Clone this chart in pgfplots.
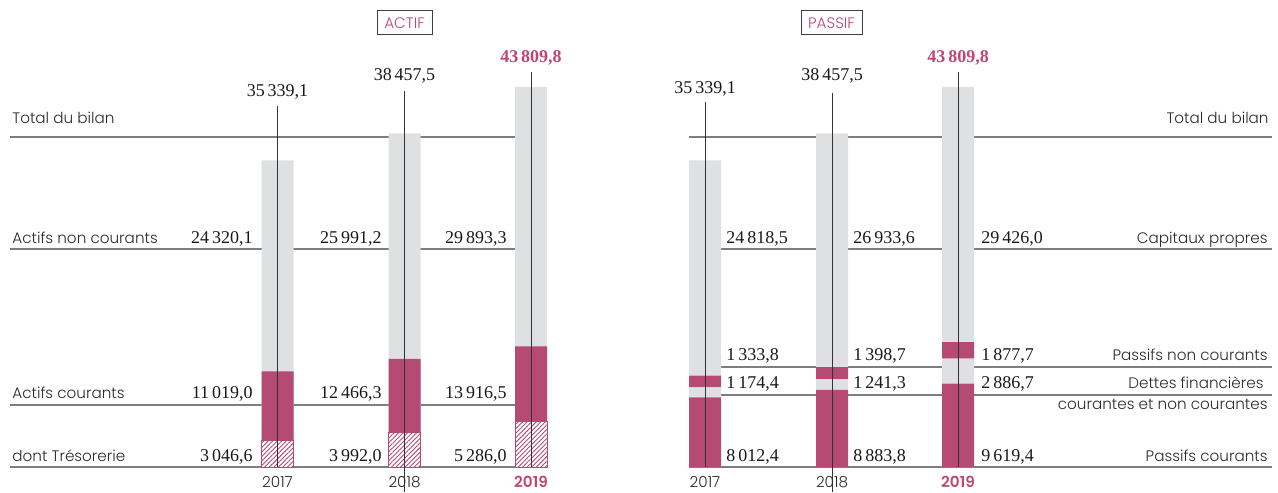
\documentclass[border=0pt]{standalone}
\usepackage{pgfplots}
\pgfplotsset{compat=1.18}
\usepackage{fontspec}
\IfFontExistsTF{Poppins Light}{%
  \IfFontExistsTF{Poppins SemiBold}{%
    \setmainfont{Poppins Light}[BoldFont={Poppins SemiBold}]}{%
    \setmainfont{Poppins Light}[BoldFont={Poppins}]}}{%
  \setmainfont{Poppins}}
\newfontfamily\numfont{Liberation Serif}
\usetikzlibrary{patterns.meta}
\definecolor{crim}{HTML}{B54A72}
\definecolor{crimtxt}{HTML}{C0466F}
\definecolor{lgray}{HTML}{DFE0E2}
\definecolor{linegray}{HTML}{7F7F7F}
\definecolor{labcol}{HTML}{2B2B2B}
\tikzset{
  lab/.style={font=\fontsize{7.6}{9}\selectfont, text=labcol, inner sep=0pt},
  num/.style={font=\numfont\fontsize{9}{10}\selectfont, text=black!90, inner sep=0pt},
  bnum/.style={font=\numfont\bfseries\fontsize{9}{10}\selectfont, text=crimtxt, inner sep=0pt},
  hline/.style={draw=linegray, line width=0.75pt},
  vline/.style={draw=black!80, line width=0.5pt},
}
\pgfplotsset{
  panel/.style={at={(0,0)}, anchor=south west, scale only axis,
    width=639pt, height=246pt, xmin=0, xmax=1278,
    ymin=-2882.3, ymax=53840.4, axis lines=none, clip=false, bar width=32},
}
\begin{document}
\begin{tikzpicture}
\useasboundingbox (0,0) rectangle (639pt,246pt);
% ---------------- ACTIF ----------------
\begin{axis}[panel, ybar]
\draw[hline] (axis cs:10,38045.7) -- (axis cs:531,38045.7);
\draw[hline] (axis cs:10,25133.2) -- (axis cs:531,25133.2);
\draw[hline] (axis cs:10,7148.0) -- (axis cs:531,7148.0);
\draw[hline] (axis cs:10,0) -- (axis cs:547,0);
% Total du bilan
\addplot[fill=lgray, draw=none, bar shift=0pt] coordinates {(277.5,35339.1) (404.5,38457.5) (531,43809.8)};
% Actifs courants
\addplot[fill=crim, draw=none, bar shift=0pt] coordinates {(277.5,11019.0) (404.5,12466.3) (531,13916.5)};
% dont Tresorerie
\addplot[fill=white, draw=none, bar shift=0pt] coordinates {(277.5,3046.6) (404.5,3992.0) (531,5286.0)};
\addplot[pattern={Lines[angle=45,distance=1.6pt,line width=0.45pt]}, pattern color=crim, draw=crim, line width=0.4pt, bar shift=0pt] coordinates {(277.5,3046.6) (404.5,3992.0) (531,5286.0)};
% vertical lines
\draw[vline] (axis cs:277.5,41619.7) -- (axis cs:277.5,0);
\draw[vline] (axis cs:404.5,43349.0) -- (axis cs:404.5,-2882.3);
\draw[vline] (axis cs:531,45539.6) -- (axis cs:531,0);
% top values
\node[num, anchor=base] at (axis cs:277.5,42657.3) {35\,339,1};
\node[num, anchor=base] at (axis cs:404.5,44501.9) {38\,457,5};
\node[bnum, anchor=base] at (axis cs:531,46577.2) {43\,809,8};
% left labels
\node[lab, anchor=base west] at (axis cs:12,39544.5) {Total du bilan};
\node[lab, anchor=base west] at (axis cs:12,25709.7) {Actifs non courants};
\node[lab, anchor=base west] at (axis cs:12,7839.7) {Actifs courants};
\node[lab, anchor=base west] at (axis cs:12,576.5) {dont Trésorerie};
% values
\node[num, anchor=base east] at (axis cs:253,25709.7) {24\,320,1};
\node[num, anchor=base east] at (axis cs:382,25709.7) {25\,991,2};
\node[num, anchor=base east] at (axis cs:507,25709.7) {29\,893,3};
\node[num, anchor=base east] at (axis cs:253,7839.7) {11\,019,0};
\node[num, anchor=base east] at (axis cs:382,7839.7) {12\,466,3};
\node[num, anchor=base east] at (axis cs:507,7839.7) {13\,916,5};
\node[num, anchor=base east] at (axis cs:253,576.5) {3\,046,6};
\node[num, anchor=base east] at (axis cs:382,576.5) {3\,992,0};
\node[num, anchor=base east] at (axis cs:507,576.5) {5\,286,0};
% years
\node[lab, anchor=base] at (axis cs:277.5,-2421.1) {2017};
\node[lab, anchor=base] at (axis cs:404.5,-2421.1) {2018};
\node[lab, anchor=base, text=crimtxt, font=\bfseries\fontsize{7.6}{9}\selectfont] at (axis cs:531,-2421.1) {2019};
% title
\node[draw=black!75, line width=0.5pt, inner sep=0pt, minimum width=27.5pt, minimum height=12pt, text=crimtxt, font=\fontsize{7.6}{9}\selectfont] at (axis cs:404.5,51188.8) {ACTIF};
\end{axis}
% ---------------- PASSIF background lines ----------------
\begin{axis}[panel]
\draw[hline] (axis cs:689,38045.7) -- (axis cs:1272,38045.7);
\draw[hline] (axis cs:689,25133.2) -- (axis cs:1272,25133.2);
\draw[hline] (axis cs:721,11529.0) -- (axis cs:1272,11529.0);
\draw[hline] (axis cs:721,8300.9) -- (axis cs:1272,8300.9);
\draw[hline] (axis cs:689,0) -- (axis cs:1272,0);
\end{axis}
% ---------------- PASSIF bars ----------------
\begin{axis}[panel, ybar stacked]
% Passifs courants
\addplot[fill=crim, draw=none] coordinates {(705,8012.4) (832,8883.8) (958,9619.4)};
% Dettes financieres
\addplot[fill=lgray, draw=none] coordinates {(705,1174.4) (832,1241.3) (958,2886.7)};
% Passifs non courants
\addplot[fill=crim, draw=none] coordinates {(705,1333.8) (832,1398.7) (958,1877.7)};
% Capitaux propres
\addplot[fill=lgray, draw=none] coordinates {(705,24818.5) (832,26933.6) (958,29426.0)};
\end{axis}
% ---------------- PASSIF overlay (lines and texts on top) ----------------
\begin{axis}[panel]
% vertical lines
\draw[vline] (axis cs:705,42080.9) -- (axis cs:705,0);
\draw[vline] (axis cs:832,43118.5) -- (axis cs:832,-2882.3);
\draw[vline] (axis cs:958,45539.6) -- (axis cs:958,0);
% top values
\node[num, anchor=base] at (axis cs:705,43003.2) {35\,339,1};
\node[num, anchor=base] at (axis cs:832,44501.9) {38\,457,5};
\node[bnum, anchor=base] at (axis cs:958,46577.2) {43\,809,8};
% right labels
\node[lab, anchor=base east] at (axis cs:1269,39544.5) {Total du bilan};
\node[lab, anchor=base east] at (axis cs:1268,25709.7) {Capitaux propres};
\node[lab, anchor=base east] at (axis cs:1268,12220.7) {Passifs non courants};
\node[lab, anchor=base east] at (axis cs:1264,8992.6) {Dettes financières};
\node[lab, anchor=base east] at (axis cs:1268,6571.5) {courantes et non courantes};
\node[lab, anchor=base east] at (axis cs:1268,576.5) {Passifs courants};
% values
\node[num, anchor=base west] at (axis cs:726,25709.7) {24\,818,5};
\node[num, anchor=base west] at (axis cs:853,25709.7) {26\,933,6};
\node[num, anchor=base west] at (axis cs:981,25709.7) {29\,426,0};
\node[num, anchor=base west] at (axis cs:726,12220.7) {1\,333,8};
\node[num, anchor=base west] at (axis cs:853,12220.7) {1\,398,7};
\node[num, anchor=base west] at (axis cs:981,12220.7) {1\,877,7};
\node[num, anchor=base west] at (axis cs:726,8992.6) {1\,174,4};
\node[num, anchor=base west] at (axis cs:853,8992.6) {1\,241,3};
\node[num, anchor=base west] at (axis cs:981,8992.6) {2\,886,7};
\node[num, anchor=base west] at (axis cs:726,576.5) {8\,012,4};
\node[num, anchor=base west] at (axis cs:853,576.5) {8\,883,8};
\node[num, anchor=base west] at (axis cs:981,576.5) {9\,619,4};
% years
\node[lab, anchor=base] at (axis cs:705,-2421.1) {2017};
\node[lab, anchor=base] at (axis cs:832,-2421.1) {2018};
\node[lab, anchor=base, text=crimtxt, font=\bfseries\fontsize{7.6}{9}\selectfont] at (axis cs:958,-2421.1) {2019};
% title
\node[draw=black!75, line width=0.5pt, inner sep=0pt, minimum width=30.5pt, minimum height=12pt, text=crimtxt, font=\fontsize{7.6}{9}\selectfont] at (axis cs:831.5,51188.8) {PASSIF};
\end{axis}
\end{tikzpicture}
\end{document}
